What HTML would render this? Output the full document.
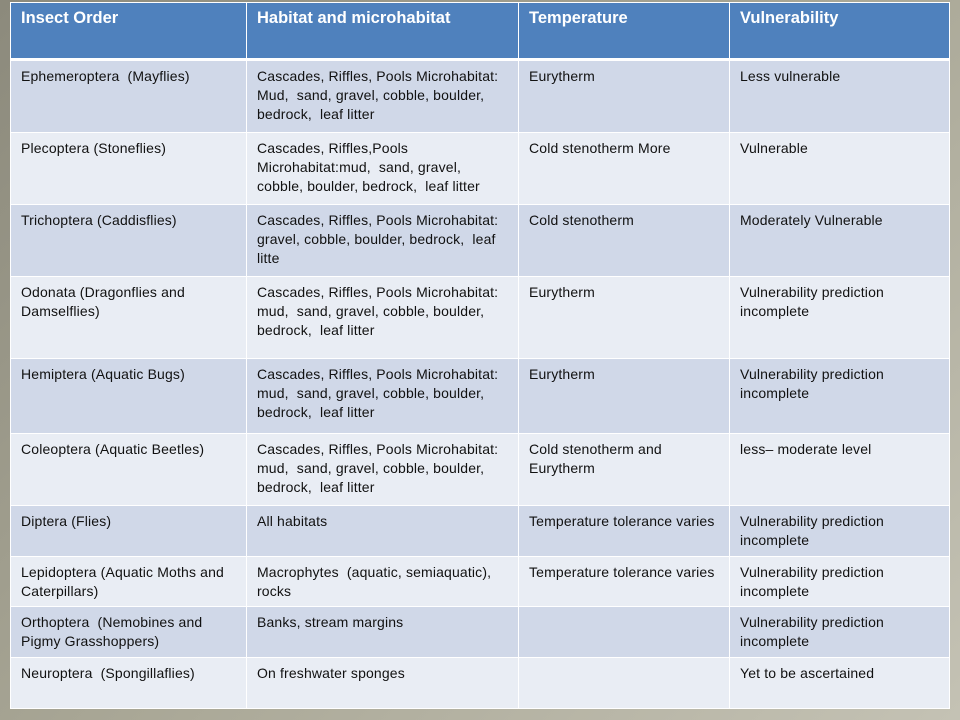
<!DOCTYPE html>
<html><head><meta charset="utf-8"><style>
html,body{margin:0;padding:0}
body{width:960px;height:720px;overflow:hidden;background:linear-gradient(135deg,#8c8a7c 0%,#a9a796 50%,#c4c2b4 100%);position:relative;font-family:"Liberation Sans",sans-serif}
table{position:absolute;left:10px;top:2px;border-collapse:collapse;table-layout:fixed}
td{border:1.5px solid #fff;vertical-align:top;padding:6px 0 0 10px;font-size:14px;line-height:19px;color:#111;white-space:nowrap;letter-spacing:0.15px;overflow:hidden;box-sizing:border-box}
tr.h td{background:#4f81bd;color:#fff;font-weight:bold;font-size:16.5px;padding-top:6px;border-bottom:3px solid #fff;letter-spacing:0}
tr.o td{background:#d0d8e8}
tr.e td{background:#e9edf4}
</style></head><body>
<table>
<colgroup><col style="width:236px"><col style="width:272px"><col style="width:211px"><col style="width:220px"></colgroup>
<tr class="h" style="height:57px"><td>Insect Order</td><td>Habitat and microhabitat</td><td>Temperature</td><td>Vulnerability</td></tr>
<tr class="o" style="height:73px"><td>Ephemeroptera&nbsp; (Mayflies)</td><td>Cascades, Riffles, Pools Microhabitat:<br>Mud,&nbsp; sand, gravel, cobble, boulder,<br>bedrock,&nbsp; leaf litter</td><td>Eurytherm</td><td>Less vulnerable</td></tr>
<tr class="e" style="height:72px"><td>Plecoptera (Stoneflies)</td><td>Cascades, Riffles,Pools<br>Microhabitat:mud,&nbsp; sand, gravel,<br>cobble, boulder, bedrock,&nbsp; leaf litter</td><td>Cold stenotherm More</td><td>Vulnerable</td></tr>
<tr class="o" style="height:72px"><td>Trichoptera (Caddisflies)</td><td>Cascades, Riffles, Pools Microhabitat:<br>gravel, cobble, boulder, bedrock,&nbsp; leaf<br>litte</td><td>Cold stenotherm</td><td>Moderately Vulnerable</td></tr>
<tr class="e" style="height:82px"><td>Odonata (Dragonflies and<br>Damselflies)</td><td>Cascades, Riffles, Pools Microhabitat:<br>mud,&nbsp; sand, gravel, cobble, boulder,<br>bedrock,&nbsp; leaf litter</td><td>Eurytherm</td><td>Vulnerability prediction<br>incomplete</td></tr>
<tr class="o" style="height:75px"><td>Hemiptera (Aquatic Bugs)</td><td>Cascades, Riffles, Pools Microhabitat:<br>mud,&nbsp; sand, gravel, cobble, boulder,<br>bedrock,&nbsp; leaf litter</td><td>Eurytherm</td><td>Vulnerability prediction<br>incomplete</td></tr>
<tr class="e" style="height:72px"><td>Coleoptera (Aquatic Beetles)</td><td>Cascades, Riffles, Pools Microhabitat:<br>mud,&nbsp; sand, gravel, cobble, boulder,<br>bedrock,&nbsp; leaf litter</td><td>Cold stenotherm and<br>Eurytherm</td><td>less– moderate level</td></tr>
<tr class="o" style="height:51px"><td>Diptera (Flies)</td><td>All habitats</td><td>Temperature tolerance varies</td><td>Vulnerability prediction<br>incomplete</td></tr>
<tr class="e" style="height:50px"><td>Lepidoptera (Aquatic Moths and<br>Caterpillars)</td><td>Macrophytes&nbsp; (aquatic, semiaquatic),<br>rocks</td><td>Temperature tolerance varies</td><td>Vulnerability prediction<br>incomplete</td></tr>
<tr class="o" style="height:51px"><td>Orthoptera&nbsp; (Nemobines and<br>Pigmy Grasshoppers)</td><td>Banks, stream margins</td><td></td><td>Vulnerability prediction<br>incomplete</td></tr>
<tr class="e" style="height:51px"><td>Neuroptera&nbsp; (Spongillaflies)</td><td>On freshwater sponges</td><td></td><td>Yet to be ascertained</td></tr>
</table>
</body></html>
